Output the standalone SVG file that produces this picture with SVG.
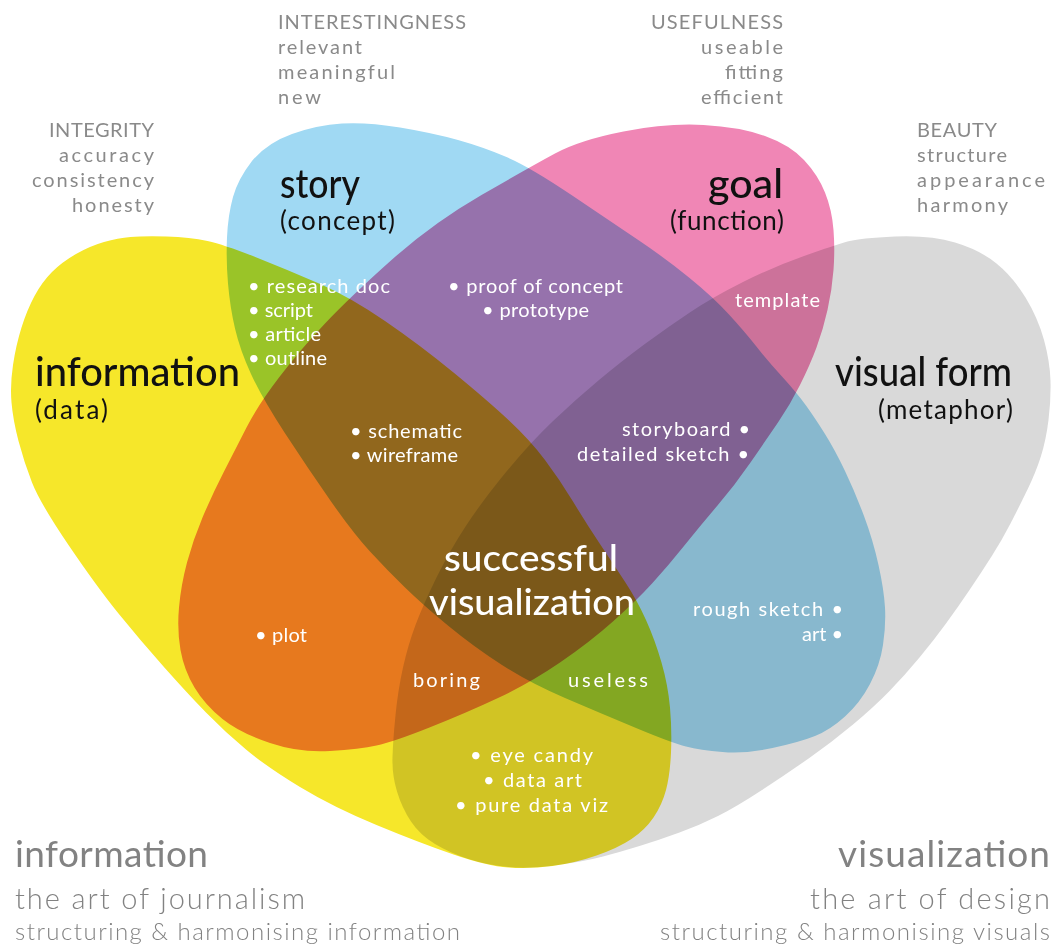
<svg xmlns="http://www.w3.org/2000/svg" width="1053" height="947" viewBox="0 0 1053 947">
<style>
.shape{mix-blend-mode:multiply}
text{font-family:Lato,"Open Sans","Liberation Sans",sans-serif}
.lbl{font-size:20px;fill:#8a8a8a}
.ttl{font-size:40px;fill:#111;font-weight:500}
.sub{font-size:26px;fill:#111}
.wt{font-size:20px;fill:#fff}
.big{font-size:36px;fill:#fff;font-weight:500}
.c1{font-size:37px;fill:#828282}
.c2{font-size:29px;fill:#828282;font-weight:300}
.c3{font-size:24px;fill:#828282;font-weight:300}
</style>
<rect width="1053" height="947" fill="#fff"/>
<g id="node-information">
<path class="shape" fill="#f6e72a" d="M130.5,237 Q143,236 166.5,236.5 Q190,237 207.5,241 Q225,245 256.5,257.5 Q288,270 319,283.5 Q350,297 385,321 Q420,345 453.5,372.5 Q487,400 508.5,420 Q530,440 545,460 Q560,480 573,501.5 Q586,523 599,542.5 Q612,562 624.5,581 Q637,600 646,620 Q655,640 661.5,662.5 Q668,685 670,707.5 Q672,730 671,752.5 Q670,775 666,790 Q662,805 653.5,817.5 Q645,830 631.5,839 Q618,848 596.5,855.5 Q575,863 552.5,866 Q530,869 508.5,867.5 Q487,866 453.5,854.5 Q420,843 376.5,825 Q333,807 300,787 Q267,767 246,749.5 Q225,732 206,712.5 Q187,693 163.5,666.5 Q140,640 118.5,613.5 Q97,587 68.5,545 Q40,503 32,482.5 Q24,462 18.5,441 Q13,420 11.5,402.5 Q10,385 13,365 Q16,345 21.5,327.5 Q27,310 34.5,296 Q42,282 52,272 Q62,262 76,254 Q90,246 104,242 Q118,238 130.5,237 Z"/>
<text class="lbl" x="49" y="137" textLength="105">INTEGRITY</text>
<text class="lbl" x="59" y="162" textLength="95">accuracy</text>
<text class="lbl" x="32" y="187" textLength="122">consistency</text>
<text class="lbl" x="72" y="212" textLength="82">honesty</text>
</g>
<g id="node-story">
<path class="shape" fill="#a0d9f3" d="M342,123.5 Q367,122 400,127.5 Q433,133 458,140 Q483,147 506.5,157 Q530,167 571.5,195 Q613,223 639,240.5 Q665,258 689,277.5 Q713,297 729,314.5 Q745,332 756,346 Q767,360 782,376.5 Q797,393 806,405.5 Q815,418 825,434 Q835,450 845,471 Q855,492 864,516 Q873,540 878.5,565 Q884,590 885,607.5 Q886,625 883,645 Q880,665 870,684 Q860,703 845,716.5 Q830,730 815,736 Q800,742 772.5,748 Q745,754 722.5,752 Q700,750 686,746.5 Q672,743 636,728 Q600,713 565,698 Q530,683 502,665 Q474,647 448.5,626 Q423,605 405,587.5 Q387,570 370,551.5 Q353,533 330,500 Q307,467 284.5,432.5 Q262,398 251,374 Q240,350 235,328.5 Q230,307 228,283.5 Q226,260 227,237.5 Q228,215 233,197 Q238,179 252,161 Q267,143 292,134 Q317,125 342,123.5 Z"/>
<text class="lbl" x="278" y="29" textLength="188">INTERESTINGNESS</text>
<text class="lbl" x="278" y="54" textLength="84">relevant</text>
<text class="lbl" x="278" y="79" textLength="117">meaningful</text>
<text class="lbl" x="278" y="104" textLength="43">new</text>
</g>
<g id="node-goal">
<path class="shape" fill="#f086b5" d="M481.5,195 Q530,167 555,153.5 Q580,140 623.5,131.5 Q667,123 703.5,125 Q740,127 765,136 Q790,145 804,160 Q818,175 825,192.5 Q832,210 833.5,230 Q835,250 833.5,270 Q832,290 827.5,310 Q823,330 816.5,347.5 Q810,365 800,385 Q790,405 778,422.5 Q766,440 750.5,462.5 Q735,485 717.5,505.5 Q700,526 684,546 Q668,566 652.5,583 Q637,600 613.5,621 Q590,642 560,662.5 Q530,683 498,698 Q466,713 429.5,727.5 Q393,742 376.5,745.5 Q360,749 330,751 Q300,753 270,743 Q240,733 222.5,719 Q205,705 194.5,687.5 Q184,670 180.5,650 Q177,630 179,607.5 Q181,585 187,562.5 Q193,540 202.5,517.5 Q212,495 223.5,472.5 Q235,450 246.5,427.5 Q258,405 279,377.5 Q300,350 325,323.5 Q350,297 391.5,260 Q433,223 481.5,195 Z"/>
<text class="lbl" x="651" y="29" textLength="132">USEFULNESS</text>
<text class="lbl" x="701" y="54" textLength="82">useable</text>
<text class="lbl" x="725" y="79" textLength="58">fitting</text>
<text class="lbl" x="701" y="104" textLength="82">efficient</text>
</g>
<g id="node-visual-form">
<path class="shape" fill="#d9d9d9" d="M847.5,241.5 Q860,238 895,236.5 Q930,235 955,242.5 Q980,250 996.5,263.5 Q1013,277 1025.5,297.5 Q1038,318 1044,340 Q1050,362 1050.5,381 Q1051,400 1048.5,420 Q1046,440 1041,456 Q1036,472 1027.5,489.5 Q1019,507 1010.5,523.5 Q1002,540 991.5,556.5 Q981,573 969.5,590 Q958,607 946,623.5 Q934,640 919.5,657.5 Q905,675 889.5,691 Q874,707 853,724.5 Q832,742 810,757.5 Q788,773 762,790 Q736,807 718,816 Q700,825 679.5,832.5 Q659,840 639.5,846 Q620,852 603,856.5 Q586,861 558,865 Q530,869 508.5,867 Q487,865 468.5,859 Q450,853 435,844 Q420,835 411,821.5 Q402,808 397,791.5 Q392,775 392.5,757.5 Q393,740 395.5,715 Q398,690 403,667.5 Q408,645 415.5,625 Q423,605 436.5,577.5 Q450,550 466.5,525 Q483,500 506.5,471.5 Q530,443 552.5,421.5 Q575,400 599,380 Q623,360 645.5,343.5 Q668,327 690.5,312 Q713,297 743,282 Q773,267 804,256 Q835,245 847.5,241.5 Z"/>
<text class="lbl" x="917" y="137" textLength="80">BEAUTY</text>
<text class="lbl" x="917" y="162" textLength="90">structure</text>
<text class="lbl" x="917" y="187" textLength="128">appearance</text>
<text class="lbl" x="917" y="212" textLength="91">harmony</text>
</g>
<g id="titles">
<text class="ttl" x="280" y="198" textLength="80" lengthAdjust="spacingAndGlyphs">story</text>
<text class="sub" x="280" y="230" textLength="115">(concept)</text>
<text class="ttl" x="708" y="198" textLength="75" lengthAdjust="spacingAndGlyphs">goal</text>
<text class="sub" x="670" y="230" textLength="114">(function)</text>
<text class="ttl" x="35" y="386" textLength="205" lengthAdjust="spacingAndGlyphs">information</text>
<text class="sub" x="35" y="419" textLength="73">(data)</text>
<text class="ttl" x="835" y="386" textLength="177" lengthAdjust="spacingAndGlyphs">visual form</text>
<text class="sub" x="878" y="419" textLength="135">(metaphor)</text>
</g>
<g id="region-labels">
<text class="wt" x="248" y="293" textLength="142">• research doc</text>
<text class="wt" x="248" y="317" textLength="65">• script</text>
<text class="wt" x="248" y="341" textLength="73">• article</text>
<text class="wt" x="248" y="365" textLength="79">• outline</text>
<text class="wt" x="448" y="293" textLength="175">• proof of concept</text>
<text class="wt" x="482" y="317" textLength="107">• prototype</text>
<text class="wt" x="735" y="307" textLength="85">template</text>
<text class="wt" x="350" y="438" textLength="112">• schematic</text>
<text class="wt" x="350" y="462" textLength="108">• wireframe</text>
<text class="wt" x="622" y="436" textLength="128">storyboard •</text>
<text class="wt" x="577" y="461" textLength="172">detailed sketch •</text>
<text class="big" x="444" y="571" textLength="174" lengthAdjust="spacingAndGlyphs">successful</text>
<text class="big" x="429" y="615" textLength="206" lengthAdjust="spacingAndGlyphs">visualization</text>
<text class="wt" x="255" y="642" textLength="52">• plot</text>
<text class="wt" x="413" y="687" textLength="67">boring</text>
<text class="wt" x="568" y="687" textLength="80">useless</text>
<text class="wt" x="693" y="616" textLength="150">rough sketch •</text>
<text class="wt" x="802" y="641" textLength="41">art •</text>
<text class="wt" x="470" y="762" textLength="123">• eye candy</text>
<text class="wt" x="483" y="787" textLength="99">• data art</text>
<text class="wt" x="455" y="812" textLength="153">• pure data viz</text>
</g>
<g id="captions">
<text class="c1" x="15" y="867" textLength="193">information</text>
<text class="c2" x="15" y="909" textLength="290">the art of journalism</text>
<text class="c3" x="15" y="940" textLength="445">structuring &amp; harmonising information</text>
<text class="c1" x="838" y="867" textLength="212">visualization</text>
<text class="c2" x="810" y="909" textLength="240">the art of design</text>
<text class="c3" x="660" y="940" textLength="390">structuring &amp; harmonising visuals</text>
</g>
</svg>
